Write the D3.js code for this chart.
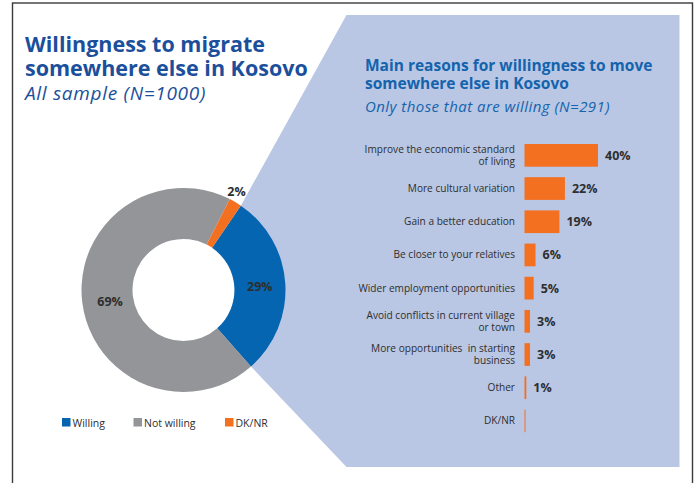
<!DOCTYPE html>
<html>
<head>
<meta charset="utf-8">
<script src="https://cdn.jsdelivr.net/npm/d3@7"></script>
<style>
  html, body { margin: 0; padding: 0; background: #fff; }
  svg { display: block; font-family: "Open Sans", Lato, sans-serif; }
</style>
</head>
<body>
<svg id="chart" width="695" height="483"></svg>
<script>
// Donut: willingness to migrate (all sample)
const pieCategories = ["Willing", "Not willing", "DK/NR"];
const pieValues = [29, 69, 2];
const pieColors = ["#0565b1", "#939598", "#f37021"];

// Bars: main reasons (only those willing)
const reasonLabels = [
  ["Improve the economic standard", "of living"],
  ["More cultural variation"],
  ["Gain a better education"],
  ["Be closer to your relatives"],
  ["Wider employment opportunities"],
  ["Avoid conflicts in current village", "or town"],
  ["More opportunities  in starting", "business"],
  ["Other"],
  ["DK/NR"]
];
const reasonValues = [40, 22, 19, 6, 5, 3, 3, 1, 0];
const reasonValueLabels = ["40%", "22%", "19%", "6%", "5%", "3%", "3%", "1%", ""];

const svg = d3.select("#chart");
const textDark = "#2e2e2e";

// Outer frame
svg.append("rect")
  .attr("x", 12.5).attr("y", 3).attr("width", 680).attr("height", 500)
  .attr("fill", "none").attr("stroke", "#3a3a3a").attr("stroke-width", 1.4);

// Donut geometry
const cx = 183.5, cy = 290, rOuter = 102, rInner = 51;
const startA = 34.2 * Math.PI / 180;
const pie = d3.pie().sort(null).value(d => d)
  .startAngle(startA).endAngle(startA + 2 * Math.PI);
const arcs = pie(pieValues);
const arc = d3.arc().innerRadius(rInner).outerRadius(rOuter);

// Callout panel anchored at the edges of the "Willing" slice
const w = arcs[0];
const pt = a => [cx + rOuter * Math.sin(a), cy - rOuter * Math.cos(a)];
const p0 = pt(w.startAngle), p1 = pt(w.endAngle);
const panel = { left: 346.5, top: 15, right: 679.5, bottom: 467 };
svg.append("path")
  .attr("d", d3.line()([
    p0, [panel.left, panel.top], [panel.right, panel.top],
    [panel.right, panel.bottom], [panel.left, panel.bottom], p1, [cx, cy]
  ]) + "Z")
  .attr("fill", "#b9c7e4");

// Donut slices over a white hole
const g = svg.append("g").attr("transform", `translate(${cx},${cy})`);
g.append("circle").attr("r", rInner).attr("fill", "#fff");
g.selectAll("path.slice").data(arcs).join("path")
  .attr("class", "slice")
  .attr("d", arc)
  .attr("fill", (d, i) => pieColors[i]);

// Slice labels
const outerLabelArc = d3.arc().innerRadius(rOuter + 12).outerRadius(rOuter + 12);
const labelPos = [
  d => arc.centroid(d),
  d => arc.centroid(d),
  d => outerLabelArc.centroid(d)
];
const labelNudge = [[0, 1.5], [2.5, 2], [-5, 0]];
g.selectAll("text.pl").data(arcs).join("text")
  .attr("class", "pl")
  .attr("x", (d, i) => labelPos[i](d)[0] + labelNudge[i][0])
  .attr("y", (d, i) => labelPos[i](d)[1] + labelNudge[i][1])
  .attr("dy", "0.35em")
  .attr("text-anchor", "middle")
  .attr("font-size", 12.5).attr("font-weight", 700).attr("fill", textDark)
  .text((d, i) => pieValues[i] + "%");

// Left titles
const titleBlue = "#1b4f9c";
svg.append("text").attr("x", 25).attr("y", 52)
  .attr("fill", titleBlue).attr("font-weight", 700).attr("font-size", 21.5)
  .text("Willingness to migrate");
svg.append("text").attr("x", 25).attr("y", 76)
  .attr("fill", titleBlue).attr("font-weight", 700).attr("font-size", 21.5)
  .text("somewhere else in Kosovo");
svg.append("text").attr("x", 25).attr("y", 100)
  .attr("fill", titleBlue).attr("font-size", 19).attr("font-style", "italic")
  .attr("letter-spacing", 0.7)
  .text("All sample (N=1000)");

// Right titles
const rBlue = "#1463ac";
svg.append("text").attr("x", 365).attr("y", 71)
  .attr("fill", rBlue).attr("font-weight", 700).attr("font-size", 15.5)
  .text("Main reasons for willingness to move");
svg.append("text").attr("x", 365).attr("y", 89)
  .attr("fill", rBlue).attr("font-weight", 700).attr("font-size", 15.5)
  .text("somewhere else in Kosovo");
svg.append("text").attr("x", 365).attr("y", 111.5)
  .attr("fill", rBlue).attr("font-size", 15).attr("font-style", "italic")
  .attr("letter-spacing", 0.45)
  .text("Only those that are willing (N=291)");

// Bar chart scales
const x = d3.scaleLinear().domain([0, 40]).range([524.5, 598]);
const y = d3.scaleBand().domain(d3.range(reasonValues.length))
  .range([138.75, 437.5]).paddingInner(0.316).paddingOuter(0.158);

const bars = svg.append("g");
bars.selectAll("rect").data(reasonValues).join("rect")
  .attr("x", x(0))
  .attr("y", (d, i) => y(i))
  .attr("width", d => Math.max(1, x(d) - x(0)))
  .attr("height", y.bandwidth())
  .attr("fill", "#f37021");

bars.selectAll("text.val").data(reasonValues).join("text")
  .attr("class", "val")
  .attr("x", d => x(d) + 7)
  .attr("y", (d, i) => y(i) + y.bandwidth() / 2)
  .attr("dy", "0.35em")
  .attr("font-size", 12.5).attr("font-weight", 700).attr("fill", textDark)
  .text((d, i) => reasonValueLabels[i]);

// Category labels, right-aligned, one or two lines
const lineH = 12;
const cat = bars.selectAll("text.cat").data(reasonLabels).join("text")
  .attr("class", "cat")
  .attr("text-anchor", "end")
  .attr("font-size", 10.1).attr("fill", textDark);
cat.each(function (lines, i) {
  const yc = y(i) + y.bandwidth() / 2;
  const t = d3.select(this);
  lines.forEach((ln, k) => {
    t.append("tspan")
      .attr("x", 515)
      .attr("y", yc + (k - (lines.length - 1) / 2) * lineH)
      .attr("dy", "0.35em")
      .attr("xml:space", "preserve")
      .text(ln);
  });
});

// Legend
const legendX = [62, 133.5, 225];
const lg = svg.append("g");
pieCategories.forEach((c, i) => {
  lg.append("rect").attr("x", legendX[i]).attr("y", 418)
    .attr("width", 8.5).attr("height", 8.5).attr("fill", pieColors[i]);
  lg.append("text").attr("x", legendX[i] + 10.5).attr("y", 426.5)
    .attr("font-size", 10.5).attr("fill", textDark).text(c);
});
</script>
</body>
</html>
